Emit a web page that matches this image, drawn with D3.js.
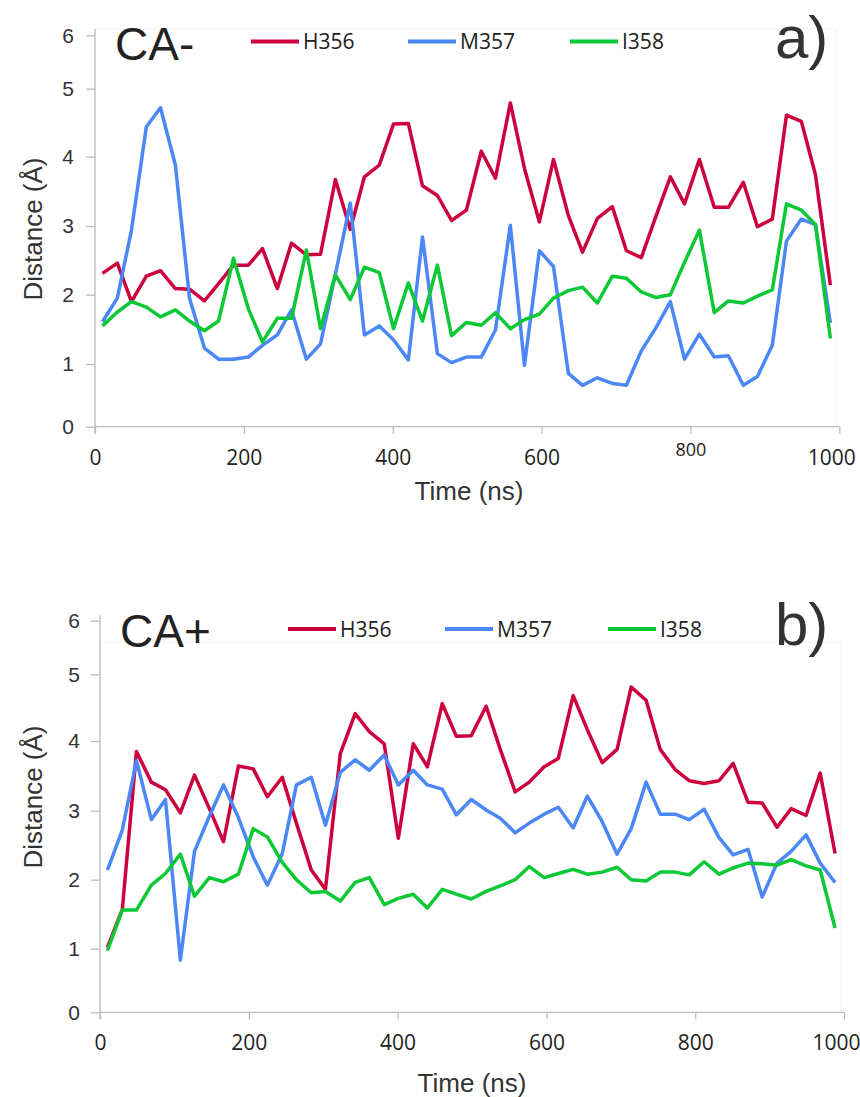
<!DOCTYPE html>
<html>
<head>
<meta charset="utf-8">
<style>
body { margin: 0; background: #fff; }
</style>
</head>
<body>
<svg id="chart" width="860" height="1097"></svg>
<script src="https://d3js.org/d3.v7.min.js"></script>
<script>
// simulation time of each frame (ns)
var times = [10,30,49,69,88,108,127,147,166,186,206,225,245,264,284,303,323,343,362,382,401,421,440,460,479,499,519,538,558,577,597,616,636,655,675,695,714,734,753,773,792,812,832,851,871,890,910,929,949,968,988];
var seriesNames = ["H356", "M357", "I358"];
var yTicks = [0, 1, 2, 3, 4, 5, 6];
var xTicks = [0, 200, 400, 600, 800, 1000];

// a) CA-
var caMinus_H356 = [2.31,2.46,1.90,2.27,2.35,2.09,2.08,1.91,2.16,2.43,2.43,2.67,2.09,2.75,2.58,2.59,3.67,2.95,3.71,3.88,4.48,4.49,3.58,3.44,3.08,3.23,4.08,3.69,4.79,3.83,3.06,3.96,3.15,2.62,3.11,3.28,2.64,2.54,3.12,3.71,3.32,3.96,3.27,3.27,3.63,2.99,3.10,4.61,4.52,3.74,2.14];
var caMinus_M357 = [1.61,1.95,2.94,4.44,4.72,3.88,1.95,1.23,1.07,1.07,1.10,1.27,1.42,1.78,1.07,1.29,2.30,3.33,1.42,1.55,1.35,1.06,2.84,1.15,1.02,1.10,1.10,1.49,3.01,0.98,2.64,2.41,0.85,0.66,0.78,0.69,0.66,1.19,1.51,1.90,1.07,1.43,1.10,1.12,0.66,0.80,1.27,2.78,3.10,3.02,1.59];
var caMinus_I358 = [1.55,1.75,1.90,1.82,1.68,1.78,1.62,1.48,1.62,2.53,1.80,1.32,1.66,1.66,2.65,1.51,2.29,1.93,2.40,2.32,1.51,2.17,1.62,2.43,1.41,1.60,1.56,1.74,1.51,1.64,1.72,1.95,2.06,2.11,1.88,2.27,2.24,2.04,1.96,2.00,2.47,2.94,1.74,1.91,1.88,1.98,2.07,3.32,3.23,3.02,1.37];

// b) CA+
var caPlus_H356 = [1.02,1.57,3.85,3.41,3.30,2.97,3.51,3.03,2.55,3.64,3.60,3.20,3.48,2.82,2.14,1.86,3.82,4.41,4.14,3.96,2.60,3.96,3.63,4.56,4.07,4.08,4.52,3.88,3.27,3.41,3.63,3.75,4.68,4.17,3.69,3.88,4.81,4.61,3.88,3.59,3.43,3.39,3.43,3.68,3.12,3.11,2.76,3.03,2.93,3.54,2.38];
var caPlus_M357 = [2.14,2.72,3.72,2.87,3.16,0.82,2.41,2.92,3.37,2.90,2.33,1.92,2.38,3.37,3.48,2.79,3.55,3.73,3.58,3.80,3.37,3.58,3.37,3.31,2.94,3.16,3.01,2.89,2.68,2.82,2.95,3.05,2.75,3.21,2.84,2.37,2.74,3.41,2.95,2.95,2.87,3.02,2.61,2.36,2.44,1.75,2.24,2.41,2.65,2.24,1.96];
var caPlus_I358 = [0.97,1.56,1.56,1.92,2.09,2.37,1.76,2.03,1.97,2.08,2.74,2.62,2.25,2.00,1.81,1.83,1.69,1.96,2.03,1.64,1.73,1.79,1.59,1.86,1.79,1.72,1.83,1.91,2.00,2.19,2.03,2.09,2.15,2.08,2.11,2.18,2.00,1.98,2.11,2.11,2.07,2.26,2.08,2.17,2.24,2.23,2.21,2.29,2.20,2.14,1.30];

var colors = ["#cc003d", "#4b87f6", "#0ac935"];
var svg = d3.select("#chart");

var panels = [
  { title: "CA-", tag: "a)", series: [caMinus_H356, caMinus_M357, caMinus_I358],
    xRange: [95, 839.3], yRange: [426.7, 364, 294.7, 226, 156.7, 88.7, 35.3],
    axisTop: 29, frameTop: 29, yPad: 12, legendX: [251, 408, 570], legendY: 41.5,
    titleY: 60, tagY: 58, yLabelMid: 229, xLabelX: 469, xLabelY: 500, small800: true },
  { title: "CA+", tag: "b)", series: [caPlus_H356, caPlus_M357, caPlus_I358],
    xRange: [100, 844], yRange: [1012.3, 948.7, 879.7, 810.7, 741, 674.3, 620.7],
    axisTop: 615, frameTop: 642, yPad: 11, legendX: [288, 445, 608], legendY: 629,
    titleY: 647, tagY: 645, yLabelMid: 797, xLabelX: 472, xLabelY: 1092, small800: false }
];

function drawPanel(p) {
  var x = d3.scaleLinear().domain([0, 1000]).range(p.xRange);
  var y = d3.scaleLinear().domain(yTicks).range(p.yRange);
  var g = svg.append("g");

  // faint plot-area frame
  g.append("rect")
    .attr("x", x(0)).attr("y", p.frameTop)
    .attr("width", x(1000) - x(0) - 3).attr("height", y(0) - p.frameTop)
    .attr("fill", "none").attr("stroke", "#f1f1f1");

  // y axis
  var gy = g.append("g").attr("transform", "translate(" + x(0) + ",0)")
    .call(d3.axisLeft(y).tickValues(yTicks).tickFormat(d3.format("d"))
      .tickSize(9).tickPadding(p.yPad));
  gy.select(".domain").remove();
  gy.selectAll(".tick line").attr("stroke", "#bdbdbd").attr("stroke-width", 1.3);
  gy.selectAll(".tick text").attr("font-family", "Liberation Sans, Arial, sans-serif")
    .attr("font-size", 21).attr("fill", "#333");
  g.append("line").attr("x1", x(0)).attr("x2", x(0))
    .attr("y1", p.axisTop).attr("y2", y(0) + 7)
    .attr("stroke", "#bdbdbd").attr("stroke-width", 1.3);

  // x axis
  var gx = g.append("g").attr("transform", "translate(0," + y(0) + ")")
    .call(d3.axisBottom(x).tickValues(xTicks).tickFormat(d3.format("d"))
      .tickSize(7).tickPadding(16));
  gx.select(".domain").attr("stroke", "#bdbdbd").attr("stroke-width", 1.3)
    .attr("d", "M" + x(0) + ",0H" + x(1000));
  gx.selectAll(".tick line").attr("stroke", "#bdbdbd").attr("stroke-width", 1.3);
  gx.selectAll(".tick text").attr("font-family", "Open Sans, sans-serif")
    .attr("font-size", 21).attr("fill", "#222");
  gx.selectAll(".tick text").filter(function (d) { return d === 1000; }).attr("dx", -8);
  if (p.small800) {
    gx.selectAll(".tick text").filter(function (d) { return d === 800; })
      .attr("font-size", 18).attr("y", 17);
  }

  // lines
  var line = d3.line()
    .x(function (d, i) { return x(times[i]); })
    .y(function (d) { return y(d); });
  p.series.forEach(function (s, i) {
    g.append("path").attr("d", line(s))
      .attr("fill", "none").attr("stroke", colors[i])
      .attr("stroke-width", 3.5).attr("stroke-linejoin", "round");
  });

  // legend
  seriesNames.forEach(function (name, i) {
    var lx = p.legendX[i];
    g.append("line").attr("x1", lx).attr("x2", lx + 48)
      .attr("y1", p.legendY).attr("y2", p.legendY)
      .attr("stroke", colors[i]).attr("stroke-width", 4);
    g.append("text").attr("x", lx + 52).attr("y", p.legendY + 7.5)
      .attr("font-family", "Open Sans, sans-serif").attr("font-size", 21)
      .attr("fill", "#222").text(name);
  });

  // titles
  g.append("text").attr("x", x(0) + 20).attr("y", p.titleY)
    .attr("font-family", "Liberation Sans, Arial, sans-serif").attr("font-size", 46)
    .attr("fill", "#222").text(p.title);
  g.append("text").attr("x", 775).attr("y", p.tagY)
    .attr("font-family", "Liberation Sans, Arial, sans-serif").attr("font-size", 60)
    .attr("fill", "#333").text(p.tag);

  // axis titles
  g.append("text").attr("x", p.xLabelX).attr("y", p.xLabelY)
    .attr("text-anchor", "middle")
    .attr("font-family", "Liberation Sans, Arial, sans-serif").attr("font-size", 26)
    .attr("fill", "#333").text("Time (ns)");
  g.append("text")
    .attr("transform", "translate(42," + p.yLabelMid + ") rotate(-90)")
    .attr("text-anchor", "middle")
    .attr("font-family", "Liberation Sans, Arial, sans-serif").attr("font-size", 26)
    .attr("fill", "#333").text("Distance (Å)");
}

panels.forEach(drawPanel);
</script>
</body>
</html>
